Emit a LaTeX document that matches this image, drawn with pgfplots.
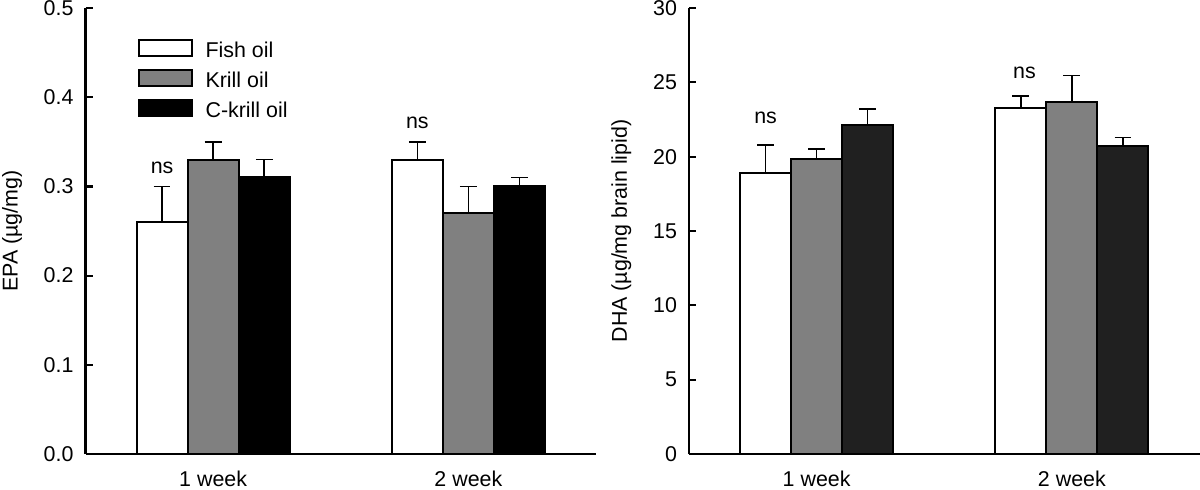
\documentclass[border=0pt]{standalone}
\usepackage{pgfplots}
\pgfplotsset{compat=1.18}
\usepackage{fontspec}
\setmainfont{Liberation Sans}
\definecolor{barg}{HTML}{808080}
\definecolor{bard}{HTML}{202020}
\newcommand{\chartfont}{\fontsize{10.7}{12.8}\selectfont}
\pgfplotsset{
  myax/.style={
    scale only axis, width=255.25pt, height=223pt,
    axis x line*=bottom, axis y line*=left,
    axis line style={line width=1.1pt, black},
    xmin=-0.5, xmax=1.5, xtick={0,1}, xticklabels={1 week, 2 week},
    major x tick style={draw=none},
    major y tick style={line width=1.1pt, black},
    tick align=inside, major tick length=3.5pt,
    ymin=0, enlargelimits=false,
    ybar, bar width=0.2,
    font=\chartfont,
    tick label style={font=\chartfont},
    /pgf/number format/assume math mode=true,
    yticklabel style={xshift=-2.5pt},
    xticklabel style={yshift=-1.5pt},
    ylabel style={at={(ticklabel cs:0.5,4pt)}, font=\chartfont},
  },
  mybar/.style={draw=black, line width=1pt, fill=#1,
    error bars/.cd, y dir=plus, y explicit, error mark=-,
    error bar style={line width=0.8pt, black},
    error mark options={rotate=90, line width=0.8pt, black, mark size=4.2pt}},
}
\begin{document}
\begin{tikzpicture}
\useasboundingbox (0,0) rectangle (600pt,244.5pt);
\begin{axis}[myax, at={(42.75pt,17.5pt)}, anchor=south west,
  ymax=0.5, ytick={0,0.1,0.2,0.3,0.4,0.5},
  yticklabel style={/pgf/number format/.cd, fixed, fixed zerofill, precision=1},
  ylabel={EPA (µg/mg)},
  legend image code/.code={\draw[#1] (0pt,-3.5pt) rectangle (26.5pt,4.4pt);},
  legend style={draw=none, fill=none, at={(0.1034,0.9298)}, anchor=north west,
    inner sep=0pt, outer sep=0pt, row sep=6.1pt, column sep=6.15pt,
    font=\chartfont, nodes={inner sep=0pt, text height=8pt, text depth=0pt}},
  legend cell align=left]
\addplot[bar shift=-0.2, mybar=white] coordinates {(0,0.26) +- (0,0.04) (1,0.33) +- (0,0.02)};
\addplot[bar shift=0, mybar=barg] coordinates {(0,0.33) +- (0,0.02) (1,0.27) +- (0,0.03)};
\addplot[bar shift=0.2, mybar=black] coordinates {(0,0.31) +- (0,0.02) (1,0.30) +- (0,0.01)};
\legend{Fish oil, Krill oil, C-krill oil}
\node[anchor=base, font=\chartfont] at (axis cs:-0.2,0.315) {ns};
\node[anchor=base, font=\chartfont] at (axis cs:0.8,0.3645) {ns};
\end{axis}
\begin{axis}[myax, at={(344.5pt,17.5pt)}, anchor=south west,
  ymax=30, ytick={0,5,10,15,20,25,30},
  ylabel={DHA (µg/mg brain lipid)}]
\addplot[bar shift=-0.2, mybar=white] coordinates {(0,18.9) +- (0,1.9) (1,23.25) +- (0,0.85)};
\addplot[bar shift=0, mybar=barg] coordinates {(0,19.85) +- (0,0.65) (1,23.65) +- (0,1.8)};
\addplot[bar shift=0.2, mybar=bard] coordinates {(0,22.1) +- (0,1.1) (1,20.7) +- (0,0.6)};
\node[anchor=base, font=\chartfont] at (axis cs:-0.2,22.25) {ns};
\node[anchor=base, font=\chartfont] at (axis cs:0.814,25.23) {ns};
\end{axis}
\end{tikzpicture}
\end{document}
